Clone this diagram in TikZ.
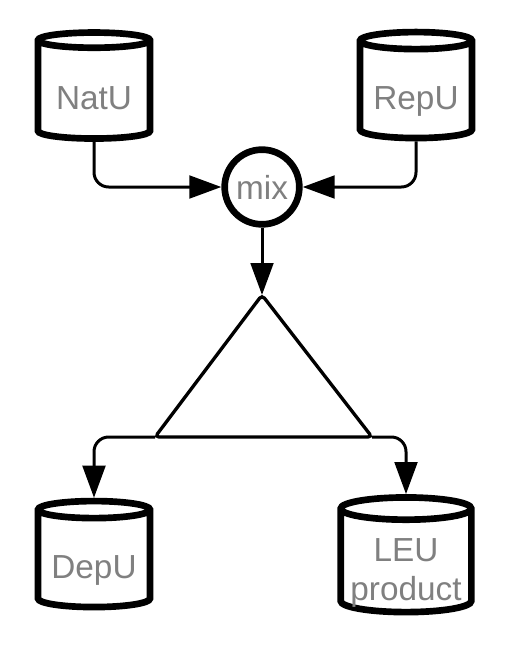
\documentclass[tikz,border=0pt]{standalone}
\usepackage{fontspec}
\setmainfont{Liberation Sans}
\usetikzlibrary{shapes.geometric,arrows.meta}
\definecolor{labelgray}{RGB}{128,128,128}

\tikzset{
  tank/.style={cylinder, shape border rotate=90, draw, line width=5pt, aspect=0.2,
    inner sep=0pt, align=center, text=labelgray, font=\fontsize{25}{29}\selectfont},
  lowlabel/.style={text height=34pt, text depth=6pt},
  flow/.style={line width=2.25pt, rounded corners=11pt, -{Triangle[length=24pt,width=17pt]}},
}

\begin{document}
\begin{tikzpicture}[x=0.75pt,y=-0.75pt]
  \useasboundingbox (0,0) rectangle (508,653);
  % feed tanks
  \node[tank, lowlabel, minimum width=84pt, minimum height=79.5pt] (natu) at (94,91) {NatU};
  \node[tank, lowlabel, minimum width=84pt, minimum height=79.5pt] (repu) at (416,91) {RepU};
  % blending point
  \node[circle, draw, line width=5pt, minimum size=56pt, inner sep=0pt,
        text=labelgray, font=\fontsize{25}{29}\selectfont] (mix) at (262,187) {mix};
  % enrichment stage
  \coordinate (apex) at (262,295);
  \coordinate (tl) at (155,437);
  \coordinate (tr) at (372,437);
  \draw[line width=2.5pt, rounded corners=3pt] (apex) -- (tr) -- (tl) -- cycle;
  % output tanks
  \node[tank, lowlabel, minimum width=84pt, minimum height=79.5pt] (depu) at (94,560) {DepU};
  \node[tank, text height=57pt, text depth=-6pt, minimum width=98pt, minimum height=86pt]
    (leu) at (406,562) {LEU\\product};
  % flows
  \draw[flow] (natu.south) |- (mix.west);
  \draw[flow] (repu.south) |- (mix.east);
  \draw[flow] (mix.south) -- (apex);
  \draw[flow] (tl) -| (depu.north);
  \draw[flow] (tr) -| (leu.north);
\end{tikzpicture}
\end{document}
